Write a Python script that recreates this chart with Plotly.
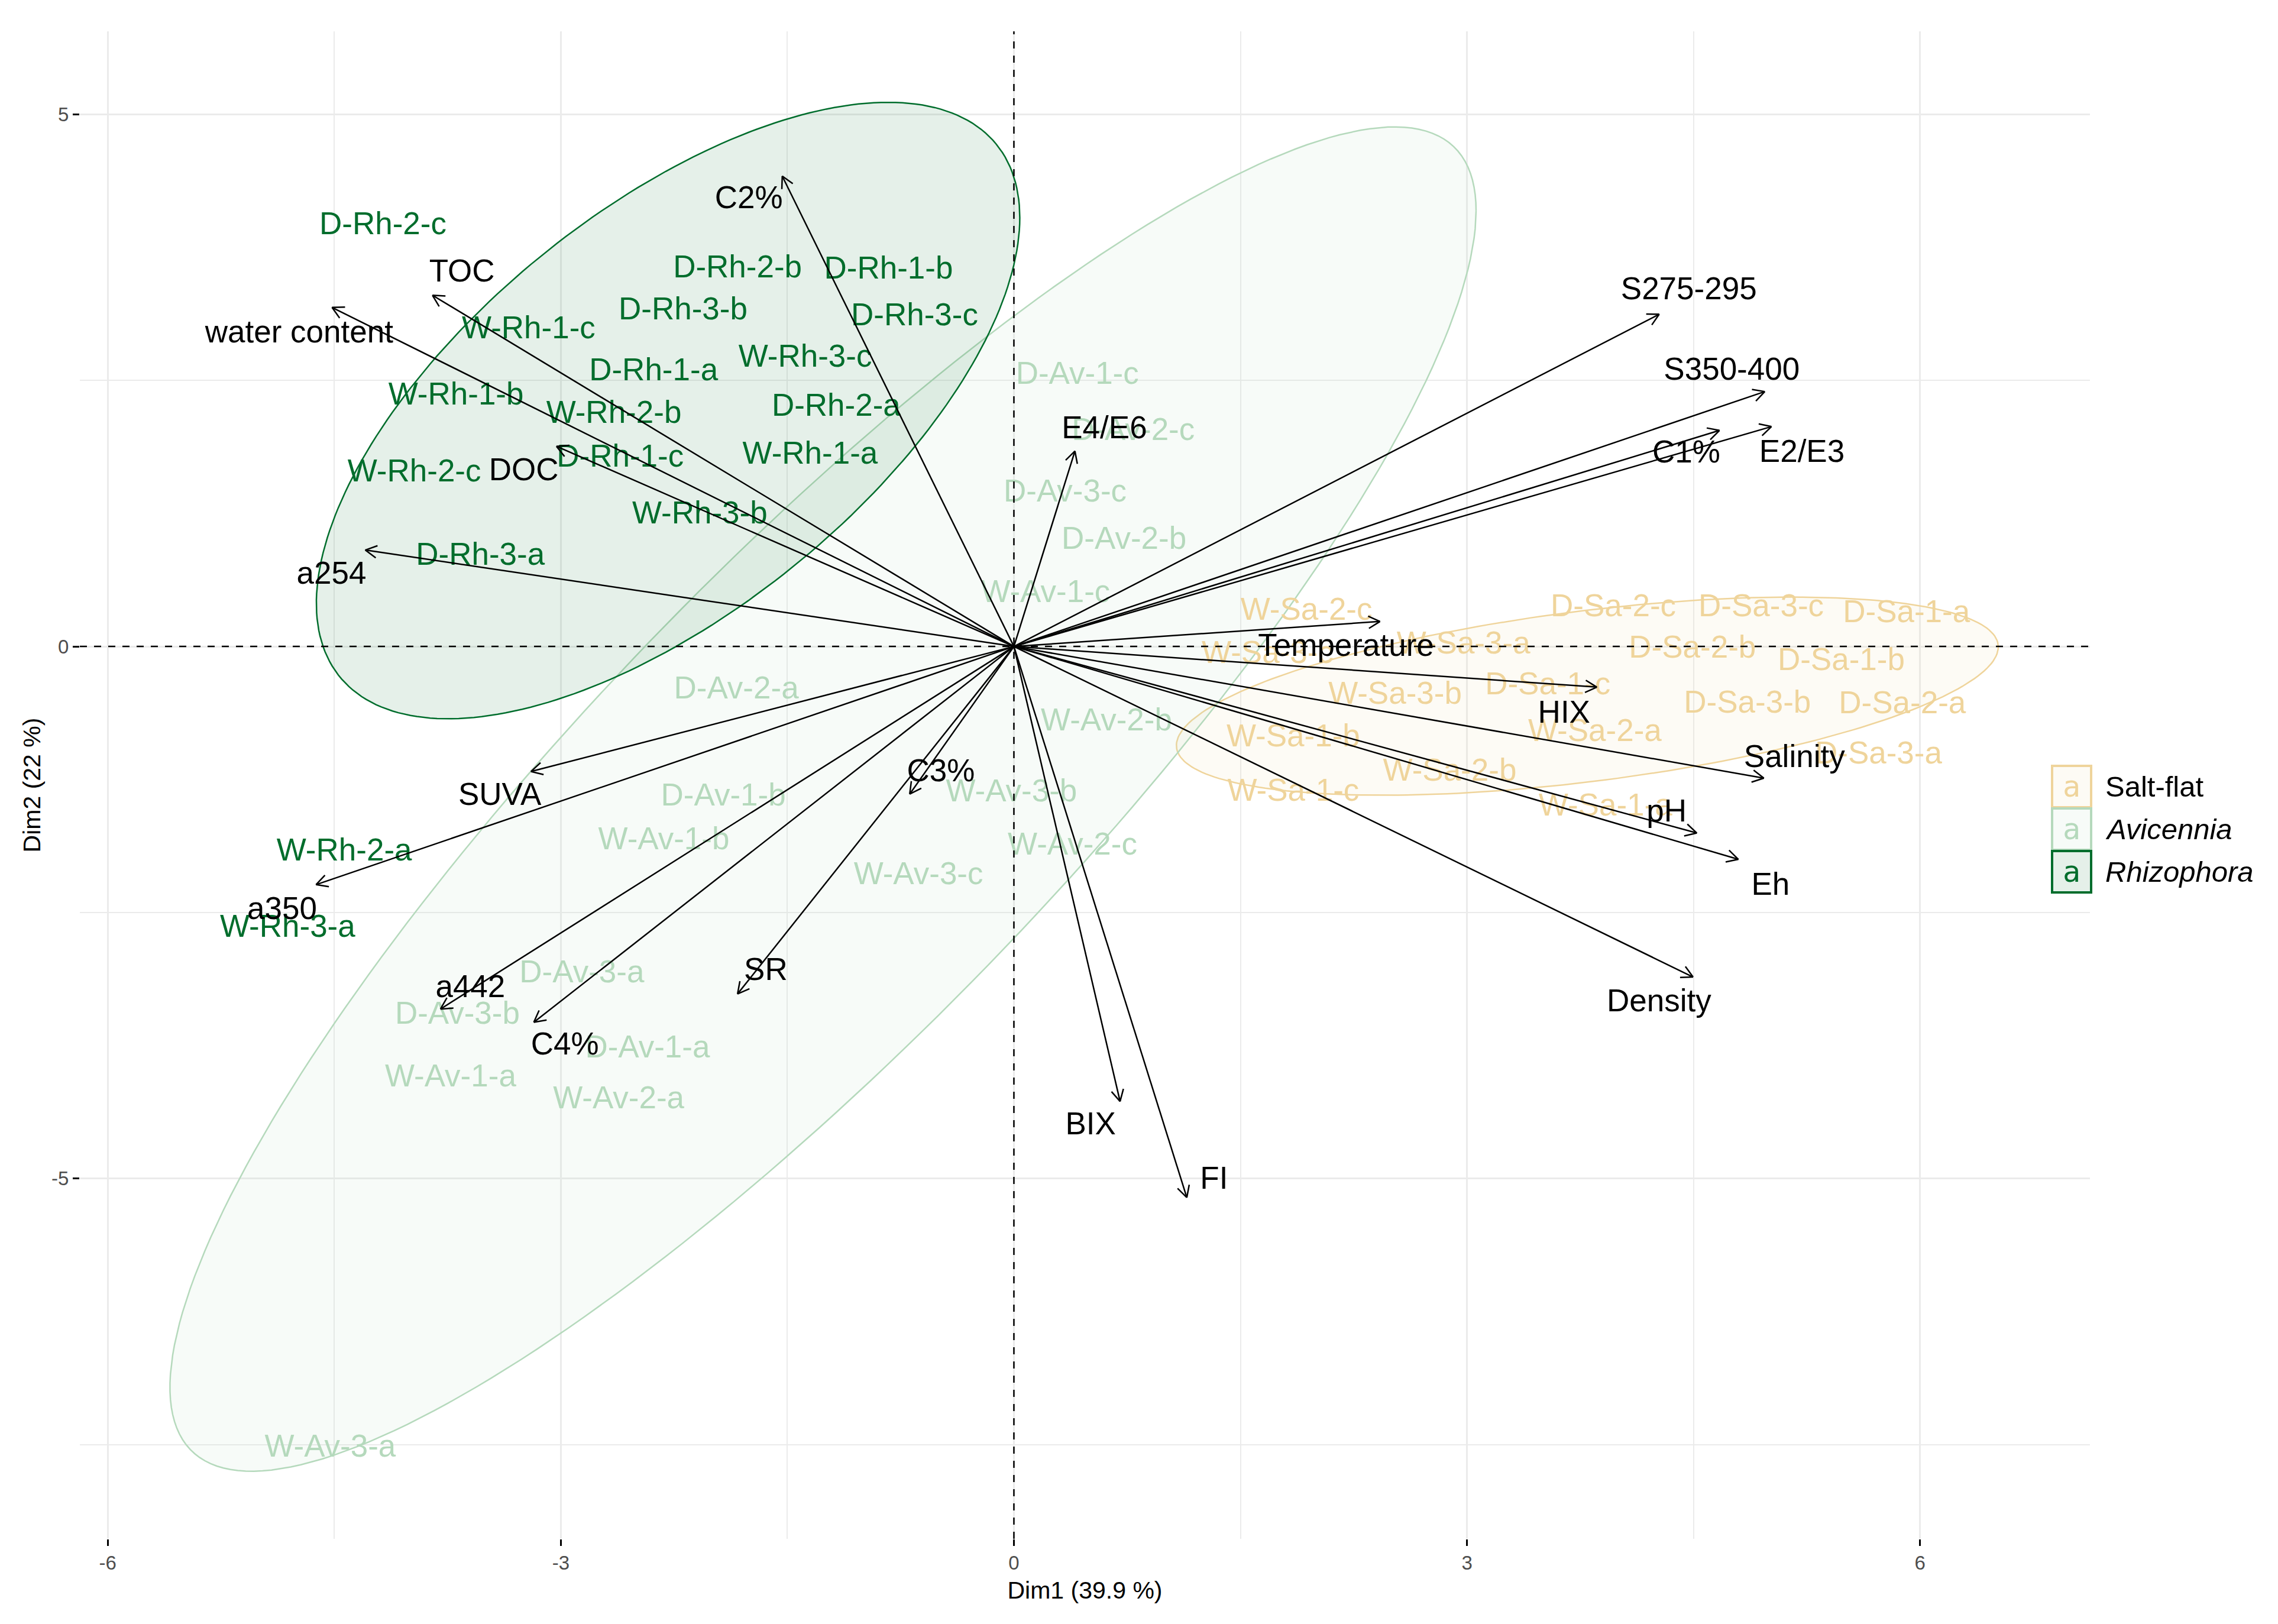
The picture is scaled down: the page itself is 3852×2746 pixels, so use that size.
import numpy as np
import plotly.graph_objects as go

# ---------------- data ----------------
var_names = ["TOC", "water content", "DOC", "a254", "C2%", "E4/E6", "Temperature", "HIX",
             "pH", "Salinity", "Eh", "Density", "FI", "BIX", "C3%", "S275-295", "S350-400",
             "C1%", "E2/E3", "SUVA", "a350", "a442", "C4%", "SR"]
var_dim1 = [-3.85, -4.515, -3.029, -4.295, -1.534, 0.404, 2.424, 3.86, 4.522, 4.966, 4.797,
            4.497, 1.145, 0.703, -0.69, 4.273, 4.972, 4.672, 5.016, -3.198, -4.621, -3.797,
            -3.179, -1.83]
var_dim2 = [3.30, 3.186, 1.881, 0.906, 4.42, 1.836, 0.235, -0.382, -1.753, -1.237, -2.0,
            -3.106, -5.178, -4.275, -1.387, 3.122, 2.395, 2.03, 2.066, -1.175, -2.238, -3.407,
            -3.531, -3.265]
var_lab_dim1 = [-3.655, -4.733, -3.246, -4.519, -1.755, 0.599, 2.199, 3.643, 4.322, 5.168,
                5.01, 4.272, 1.325, 0.508, -0.484, 4.469, 4.753, 4.452, 5.218, -3.404, -4.846,
                -3.599, -2.973, -1.643]
var_lab_dim2 = [3.505, 2.933, 1.635, 0.661, 4.19, 2.03, -0.012, -0.643, -1.568, -1.059, -2.26,
                -3.354, -5.02, -4.512, -1.193, 3.334, 2.583, 1.80, 1.81, -1.416, -2.486, -3.223,
                -3.761, -3.06]

sa_names = ["W-Sa-2-c", "W-Sa-3-a", "W-Sa-3-c", "W-Sa-3-b", "D-Sa-1-c", "W-Sa-2-a", "W-Sa-1-b",
            "W-Sa-2-b", "W-Sa-1-c", "W-Sa-1-a", "D-Sa-2-c", "D-Sa-3-c", "D-Sa-1-a", "D-Sa-2-b",
            "D-Sa-1-b", "D-Sa-3-b", "D-Sa-2-a", "D-Sa-3-a"]
sa_dim1 = [1.937, 2.977, 1.68, 2.524, 3.535, 3.847, 1.85, 2.886, 1.85, 3.917, 3.969, 4.948,
           5.91, 4.493, 5.478, 4.857, 5.883, 5.725]
sa_dim2 = [0.324, 0.006, -0.08, -0.462, -0.377, -0.813, -0.866, -1.185, -1.377, -1.514, 0.358,
           0.358, 0.304, -0.032, -0.149, -0.546, -0.556, -1.024]

av_names = ["D-Av-1-c", "D-Av-2-c", "D-Av-3-c", "D-Av-2-b", "W-Av-1-c", "D-Av-2-a", "D-Av-1-b",
            "W-Av-1-b", "W-Av-3-c", "D-Av-3-a", "D-Av-3-b", "D-Av-1-a", "W-Av-1-a", "W-Av-2-a",
            "W-Av-3-b", "W-Av-2-b", "W-Av-2-c", "W-Av-3-a"]
av_dim1 = [0.42, 0.79, 0.339, 0.729, 0.209, -1.838, -1.924, -2.318, -0.632, -2.861, -3.685,
           -2.426, -3.73, -2.617, -0.016, 0.613, 0.388, -4.527]
av_dim2 = [2.544, 2.012, 1.438, 0.992, 0.489, -0.413, -1.423, -1.831, -2.16, -3.081, -3.471,
           -3.79, -4.06, -4.265, -1.38, -0.714, -1.883, -7.539]

rh_names = ["D-Rh-2-c", "W-Rh-1-c", "D-Rh-3-b", "D-Rh-1-a", "W-Rh-1-b", "W-Rh-2-b", "D-Rh-1-c",
            "W-Rh-2-c", "W-Rh-3-b", "D-Rh-3-a", "D-Rh-2-b", "D-Rh-1-b", "D-Rh-3-c", "W-Rh-3-c",
            "D-Rh-2-a", "W-Rh-1-a", "W-Rh-2-a", "W-Rh-3-a"]
rh_dim1 = [-4.178, -3.213, -2.191, -2.386, -3.694, -2.649, -2.607, -3.97, -2.08, -3.533, -1.83,
           -0.83, -0.658, -1.382, -1.177, -1.349, -4.434, -4.809]
rh_dim2 = [3.946, 2.972, 3.147, 2.574, 2.348, 2.173, 1.763, 1.627, 1.232, 0.84, 3.54, 3.529,
           3.093, 2.703, 2.243, 1.793, -1.937, -2.656]

groups = ["Salt-flat", "Avicennia", "Rhizophora"]
group_colors = ["#EFD49B", "#B5D9BC", "#006D2C"]
group_rgb = [(239, 212, 155), (181, 217, 188), (0, 109, 44)]
# confidence ellipses: centre and spread matrix [[sxx, sxy], [sxy, syy]]
ell_cx = [3.797, -1.264, -2.29]
ell_cy = [-0.467, -1.434, 2.217]
ell_sxx = [7.404, 18.70, 5.424]
ell_syy = [0.867, 39.89, 8.387]
ell_sxy = [1.26, 23.9, 4.22]

x_ticks = [-6, -3, 0, 3, 6]
y_ticks = [-5, 0, 5]

# ---------------- layout geometry ----------------
W, H = 3852, 2746
ML, MR, MT, MB = 135, 318, 53, 144
XR = [-6.185, 7.125]
YR = [-8.385, 5.78]
sx = (W - ML - MR) / (XR[1] - XR[0])
sy = (H - MT - MB) / (YR[1] - YR[0])

FONT = "Liberation Sans, Arial, Helvetica, sans-serif"
fig = go.Figure()

# ellipses
t = np.linspace(0, 2 * np.pi, 240)
for i, g in enumerate(groups):
    l11 = np.sqrt(ell_sxx[i])
    l21 = ell_sxy[i] / l11
    l22 = np.sqrt(ell_syy[i] - l21 ** 2)
    ex = ell_cx[i] + l11 * np.cos(t)
    ey = ell_cy[i] + l21 * np.cos(t) + l22 * np.sin(t)
    r, gg, b = group_rgb[i]
    fig.add_trace(go.Scatter(x=ex, y=ey, mode="lines", fill="toself",
                             fillcolor=f"rgba({r},{gg},{b},0.1)",
                             line=dict(color=group_colors[i], width=2.5),
                             hoverinfo="skip", showlegend=False))

# reference lines
fig.add_hline(y=0, line=dict(color="black", width=2.5, dash="12px,12px"), layer="above")
fig.add_vline(x=0, line=dict(color="black", width=2.5, dash="12px,12px"), layer="above")

# individual labels
for names, xs, ys, col in [(sa_names, sa_dim1, sa_dim2, group_colors[0]),
                           (av_names, av_dim1, av_dim2, group_colors[1]),
                           (rh_names, rh_dim1, rh_dim2, group_colors[2])]:
    fig.add_trace(go.Scatter(x=xs, y=ys, mode="text", text=names,
                             textposition="middle center",
                             textfont=dict(family=FONT, size=53, color=col),
                             hoverinfo="skip", showlegend=False))

# variable arrows
head = 22
ang = np.deg2rad(28)
lx, ly = [], []
for vx, vy in zip(var_dim1, var_dim2):
    lx += [0, vx, None]
    ly += [0, vy, None]
    px, py = vx * sx, vy * sy
    n = np.hypot(px, py)
    ux, uy = px / n, py / n
    for s in (1, -1):
        c, si = np.cos(s * ang), np.sin(s * ang)
        rx, ry = ux * c - uy * si, ux * si + uy * c
        lx += [vx - head * rx / sx, vx, None]
        ly += [vy - head * ry / sy, vy, None]
fig.add_trace(go.Scatter(x=lx, y=ly, mode="lines", line=dict(color="black", width=2.5),
                         hoverinfo="skip", showlegend=False))

fig.add_trace(go.Scatter(x=var_lab_dim1, y=var_lab_dim2, mode="text", text=var_names,
                         textposition="middle center",
                         textfont=dict(family=FONT, size=53, color="black"),
                         hoverinfo="skip", showlegend=False))

# legend (drawn manually)
def px2paper_x(p):
    return (p - ML) / (W - ML - MR)

def px2paper_y(p):
    return (H - MB - p) / (H - MT - MB)

key_x0, key_x1 = 3468, 3538
row_top = [1295, 1367, 1439]
key_h = 70
leg_labels = ["Salt-flat", "<i>Avicennia</i>", "<i>Rhizophora</i>"]
for i in range(3):
    r, gg, b = group_rgb[i]
    y0p = px2paper_y(row_top[i] + key_h)
    y1p = px2paper_y(row_top[i])
    fig.add_shape(type="rect", xref="paper", yref="paper",
                  x0=px2paper_x(key_x0 + 2), x1=px2paper_x(key_x1 - 2), y0=y0p, y1=y1p,
                  line=dict(color=group_colors[i], width=4),
                  fillcolor=f"rgba({r},{gg},{b},0.1)", layer="above")
    fig.add_annotation(xref="paper", yref="paper", x=px2paper_x((key_x0 + key_x1) / 2),
                       y=(y0p + y1p) / 2, text="a", showarrow=False,
                       font=dict(family="DejaVu Sans Mono, monospace", size=50, color=group_colors[i]),
                       xanchor="center", yanchor="middle")
    fig.add_annotation(xref="paper", yref="paper", x=px2paper_x(3558),
                       y=(y0p + y1p) / 2, text=leg_labels[i], showarrow=False,
                       font=dict(family=FONT, size=49, color="black"),
                       xanchor="left", yanchor="middle")

fig.update_layout(
    width=W, height=H,
    margin=dict(l=ML, r=MR, t=MT, b=MB, autoexpand=False),
    paper_bgcolor="white", plot_bgcolor="white",
    showlegend=False,
    font=dict(family=FONT),
    xaxis=dict(range=XR, tickvals=x_ticks, ticktext=[str(v) for v in x_ticks],
               showgrid=True, gridcolor="#EBEBEB", gridwidth=3, zeroline=False,
               ticks="outside", ticklen=11, tickwidth=2.5, tickcolor="black",
               tickfont=dict(family=FONT, size=33, color="#4D4D4D"),
               minor=dict(tickvals=[-4.5, -1.5, 1.5, 4.5], showgrid=True,
                          gridcolor="#EBEBEB", gridwidth=2, ticks=""),
               title=dict(text="Dim1 (39.9 %)", font=dict(family=FONT, size=41, color="black"),
                          standoff=14),
               automargin=False, showline=False),
    yaxis=dict(range=YR, tickvals=y_ticks, ticktext=[str(v) for v in y_ticks],
               showgrid=True, gridcolor="#EBEBEB", gridwidth=3, zeroline=False,
               ticks="outside", ticklen=11, tickwidth=2.5, tickcolor="black",
               tickfont=dict(family=FONT, size=33, color="#4D4D4D"),
               minor=dict(tickvals=[-7.5, -2.5, 2.5], showgrid=True,
                          gridcolor="#EBEBEB", gridwidth=2, ticks=""),
               title=dict(text="Dim2 (22 %)", font=dict(family=FONT, size=41, color="black"),
                          standoff=5),
               automargin=False, showline=False),
)

fig.write_html("out.html", config={"displayModeBar": False},
               post_script="document.body.style.margin='0px';")
